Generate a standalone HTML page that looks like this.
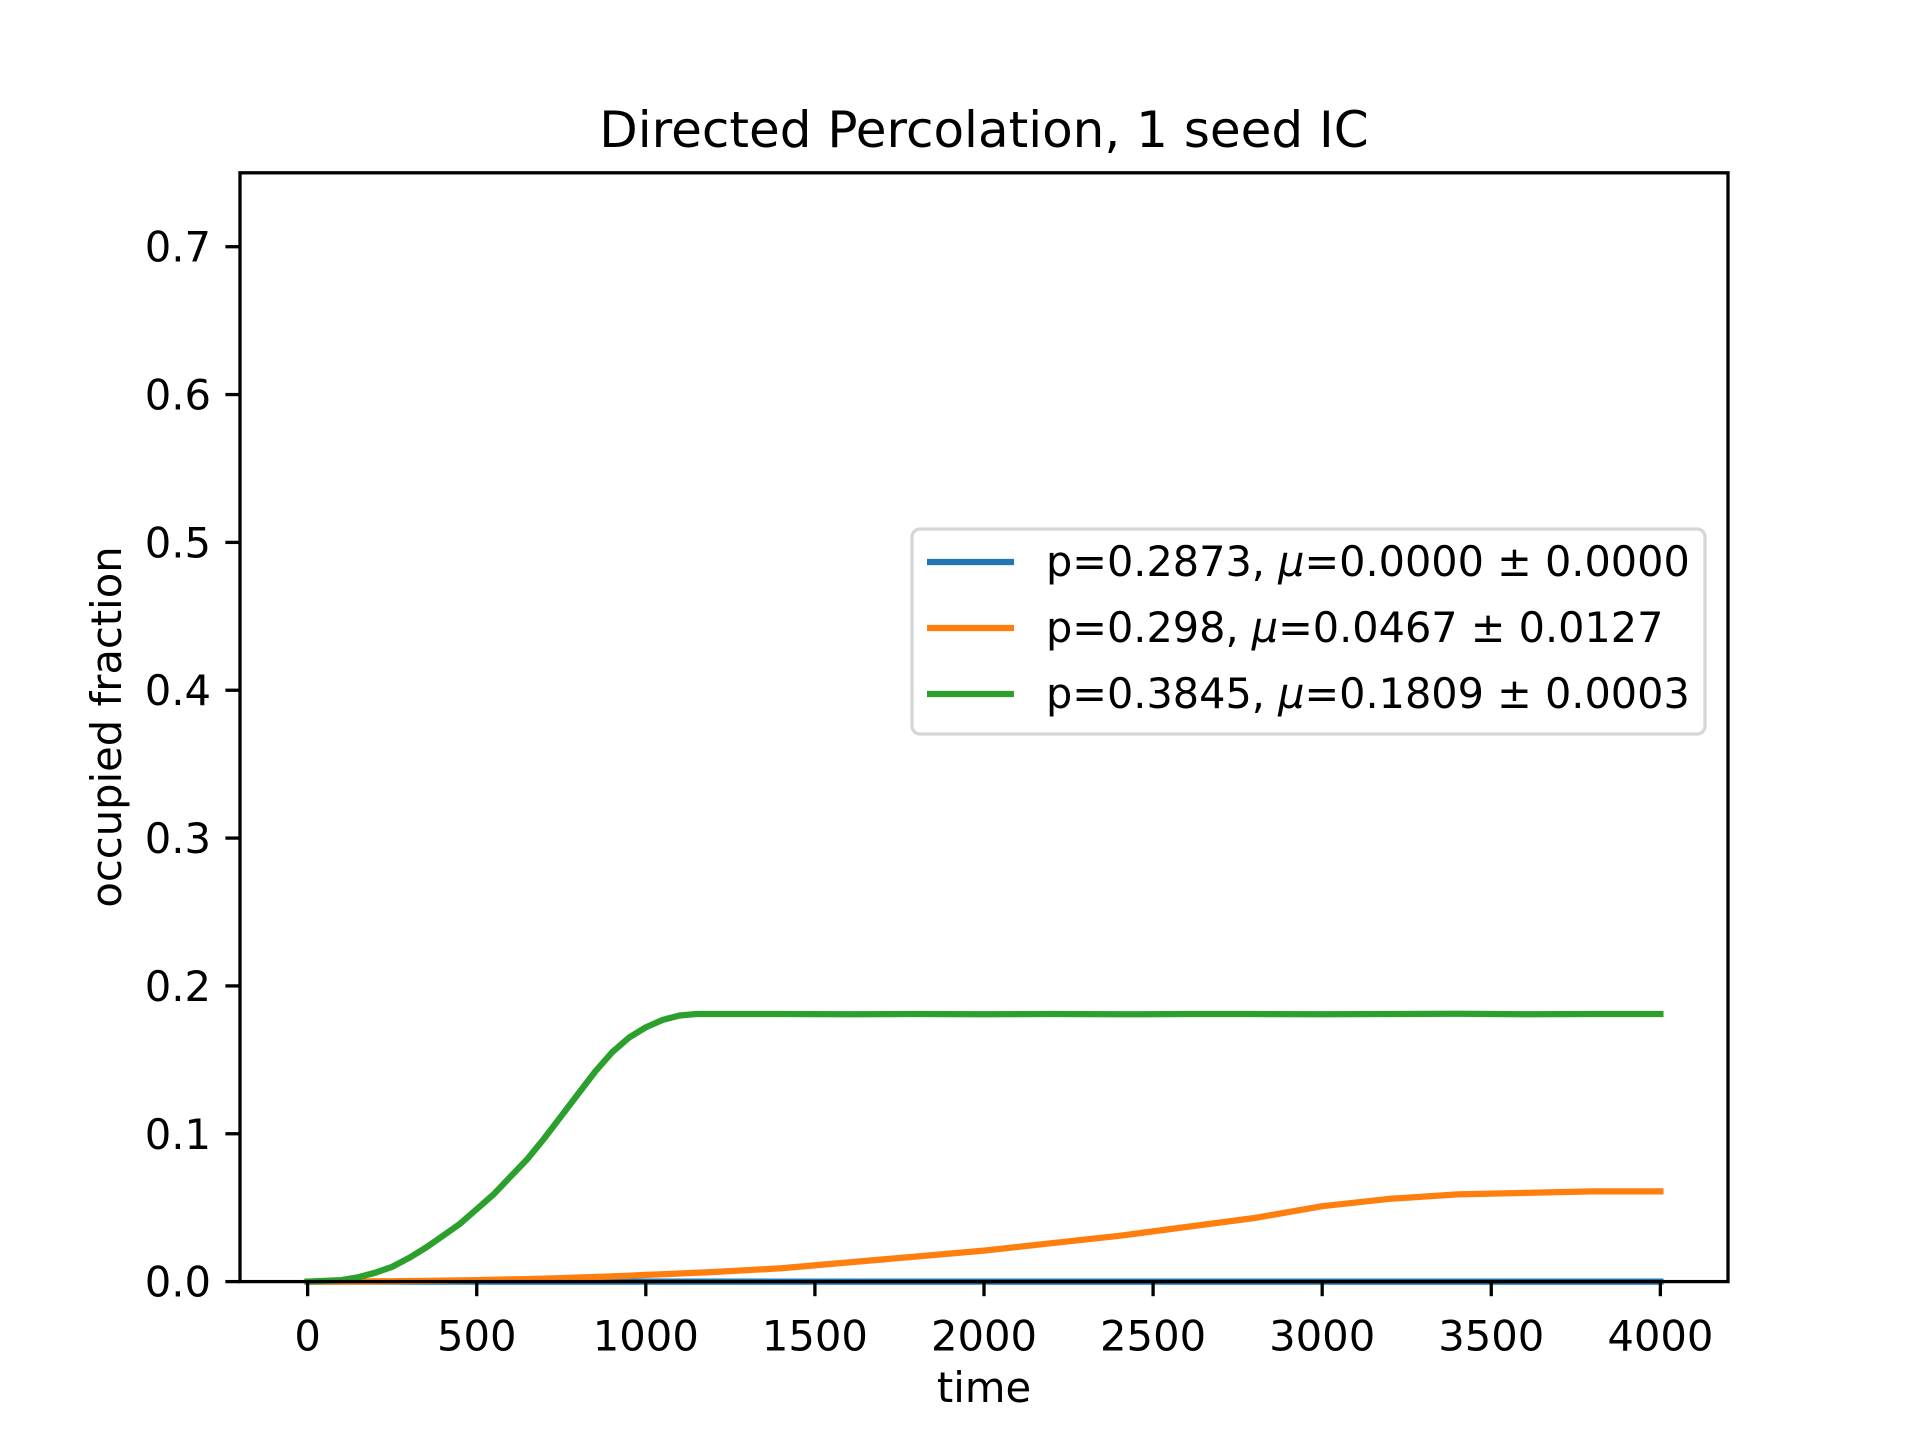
<!DOCTYPE html>
<html><head><meta charset="utf-8"><style>
html,body{margin:0;padding:0;background:#fff;}
svg{display:block;font-family:"DejaVu Sans","Liberation Sans",sans-serif;}
</style></head><body>
<svg id="chart" width="1920" height="1440" viewBox="0 0 1920 1440" xmlns="http://www.w3.org/2000/svg">
<rect width="1920" height="1440" fill="#fff"/>
<text x="984" y="147" font-size="50" text-anchor="middle">Directed Percolation, 1 seed IC</text>
<g id="plot"></g>
<text x="984" y="1402" font-size="41.7" text-anchor="middle">time</text>
<text x="0" y="0" font-size="41.7" text-anchor="middle" transform="translate(121,727) rotate(-90)">occupied fraction</text>
<g>
<rect x="912" y="529" width="793" height="205" rx="8" fill="#fff" fill-opacity="0.8" stroke="#d6d6d6" stroke-width="3.3"/>
<line x1="927" y1="562" x2="1014" y2="562" stroke="#1f77b4" stroke-width="6.25"/>
<text x="1046" y="576" font-size="41.4">p=0.2873, <tspan font-style="italic">μ</tspan>=0.0000 ± 0.0000</text>
<line x1="927" y1="628" x2="1014" y2="628" stroke="#ff7f0e" stroke-width="6.25"/>
<text x="1046" y="642" font-size="41.4">p=0.298, <tspan font-style="italic">μ</tspan>=0.0467 ± 0.0127</text>
<line x1="927" y1="694" x2="1014" y2="694" stroke="#2ca02c" stroke-width="6.25"/>
<text x="1046" y="708" font-size="41.4">p=0.3845, <tspan font-style="italic">μ</tspan>=0.1809 ± 0.0003</text>
</g>
</svg>
<script>
const xTicks=[0,500,1000,1500,2000,2500,3000,3500,4000];
const yTicks=[0.0,0.1,0.2,0.3,0.4,0.5,0.6,0.7];
const yTickLabels=["0.0","0.1","0.2","0.3","0.4","0.5","0.6","0.7"];
const times=[0,100,150,200,250,300,350,400,450,500,550,600,650,700,750,800,850,900,950,1000,1050,1100,1150,1200,1400,1600,1800,2000,2200,2400,2600,2800,3000,3200,3400,3600,3800,4000];
const blueValues=[0,0,0,0,0,0,0,0,0,0,0,0,0,0,0,0,0,0,0,0,0,0,0,0,0,0,0,0,0,0,0,0,0,0,0,0,0,0];
const orangeValues=[0,0,0,0.0002,0.0003,0.0004,0.0005,0.0007,0.0008,0.001,0.0012,0.0015,0.0017,0.002,0.0024,0.0028,0.0031,0.0035,0.004,0.0045,0.005,0.0055,0.006,0.0065,0.009,0.013,0.017,0.021,0.026,0.031,0.037,0.043,0.051,0.056,0.059,0.06,0.061,0.061];
const greenValues=[0,0.001,0.003,0.006,0.01,0.016,0.023,0.031,0.039,0.049,0.059,0.071,0.083,0.097,0.112,0.127,0.142,0.155,0.165,0.172,0.177,0.180,0.181,0.181,0.181,0.1808,0.181,0.1808,0.181,0.1808,0.181,0.181,0.1808,0.181,0.1812,0.1808,0.181,0.181];
const L=240,R=1728,T=172.8,B=1281.6,xmin=-200,xmax=4200,ymin=0,ymax=0.75;
const sx=v=>L+(v-xmin)/(xmax-xmin)*(R-L);
const sy=v=>B-(v-ymin)/(ymax-ymin)*(B-T);
const NS="http://www.w3.org/2000/svg";
const g=document.getElementById('plot');
function mk(tag,attrs){const e=document.createElementNS(NS,tag);for(const k in attrs)e.setAttribute(k,attrs[k]);g.appendChild(e);return e;}
function series(vals,color,name){
  const d=times.map((t,i)=>(i?'L':'M')+sx(t).toFixed(1)+','+sy(vals[i]).toFixed(1)).join(' ');
  const p=mk('path',{d:d,fill:'none',stroke:color,'stroke-width':6.25,'stroke-linejoin':'round','stroke-linecap':'square'});
  
  
}
series(blueValues,'#1f77b4','series-blue');
series(orangeValues,'#ff7f0e','series-orange');
series(greenValues,'#2ca02c','series-green');
const frame=mk('rect',{x:L,y:T,width:R-L,height:B-T,fill:'none',stroke:'#000','stroke-width':3.3});


xTicks.forEach(v=>{
  const x=sx(v);
  const tk=mk('line',{x1:x,y1:B,x2:x,y2:B+14.6,stroke:'#000','stroke-width':3.3});
  
  
  const t=mk('text',{x:x,y:B+29+40,'font-size':41.7,'text-anchor':'middle'});
  t.textContent=String(v);
  
  
});
yTicks.forEach((v,i)=>{
  const y=sy(v);
  const tk=mk('line',{x1:L-14.6,y1:y,x2:L,y2:y,stroke:'#000','stroke-width':3.3});
  
  
  const t=mk('text',{x:L-29,y:y+15,'font-size':41.7,'text-anchor':'end'});
  t.textContent=yTickLabels[i];
  
  
});
</script>
</body></html>
